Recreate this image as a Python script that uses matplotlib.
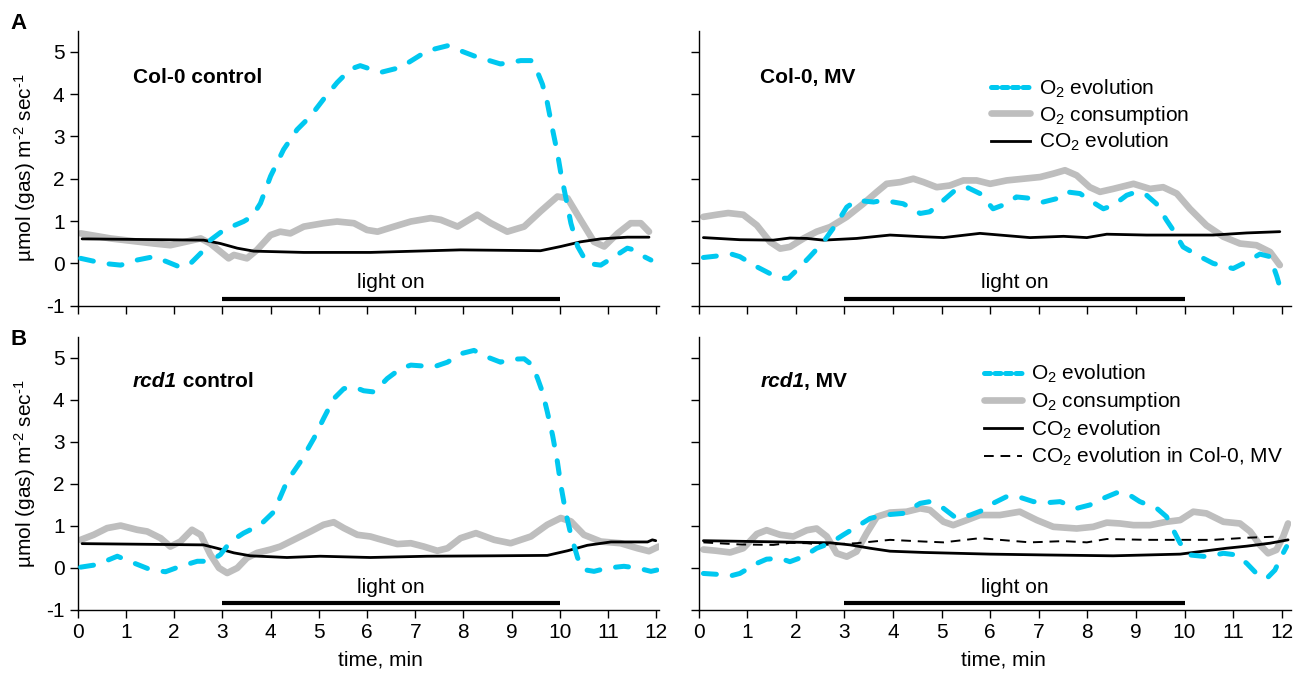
import matplotlib
matplotlib.use('Agg')
import matplotlib.pyplot as plt
from matplotlib.lines import Line2D

plt.rcParams['font.family'] = ['Liberation Sans', 'DejaVu Sans']
plt.rcParams['mathtext.fontset'] = 'custom'
plt.rcParams['mathtext.rm'] = 'Liberation Sans'
plt.rcParams['mathtext.it'] = 'Liberation Sans:italic'
plt.rcParams['mathtext.bf'] = 'Liberation Sans:bold'
plt.rcParams['mathtext.default'] = 'regular'
plt.rcParams['axes.unicode_minus'] = False

# ---- data ----
light_on = (3, 10)

# A, Col-0 control
a_o2_t = [0.06, 0.54, 0.89, 1.23, 1.58, 1.85, 2.13, 2.34, 2.55, 2.75, 3.03, 3.44, 3.62, 3.79, 4.0, 4.27,
          4.55, 4.83, 5.1, 5.38, 5.66, 5.86, 6.07, 6.28, 6.7, 7.25, 7.67, 8.22, 8.77, 9.19, 9.4, 9.54,
          9.64, 9.74, 9.85, 9.95, 10.02, 10.12, 10.23, 10.37, 10.57, 10.85, 11.13, 11.4, 11.54, 11.75, 11.89]
a_o2 = [0.12, 0.0, -0.04, 0.08, 0.16, 0.04, -0.09, 0.0, 0.24, 0.55, 0.79, 0.99, 1.11, 1.42, 2.06, 2.69,
        3.16, 3.48, 3.88, 4.27, 4.59, 4.67, 4.59, 4.51, 4.63, 5.02, 5.14, 4.9, 4.71, 4.79, 4.79, 4.51,
        4.23, 3.8, 3.16, 2.61, 2.14, 1.58, 0.95, 0.4, 0.0, -0.04, 0.16, 0.36, 0.32, 0.16, 0.08]
a_cons_t = [0.06, 0.68, 1.58, 1.92, 2.55, 2.75, 3.0, 3.13, 3.24, 3.51, 3.72, 4.0, 4.2, 4.41, 4.69, 5.1,
            5.38, 5.73, 6.0, 6.22, 6.56, 6.91, 7.32, 7.53, 7.88, 8.29, 8.57, 8.91, 9.26, 9.6, 9.95,
            10.16, 10.43, 10.71, 10.92, 11.2, 11.47, 11.68, 11.85]
a_cons = [0.71, 0.59, 0.47, 0.43, 0.59, 0.47, 0.24, 0.12, 0.2, 0.12, 0.32, 0.67, 0.75, 0.71, 0.87, 0.95,
          0.99, 0.95, 0.79, 0.75, 0.87, 0.99, 1.07, 1.03, 0.87, 1.15, 0.95, 0.75, 0.87, 1.23, 1.58,
          1.54, 1.03, 0.51, 0.4, 0.71, 0.95, 0.95, 0.75]
a_co2_t = [0.09, 2.61, 2.96, 3.31, 3.65, 4.69, 6.07, 7.94, 9.6, 10.02, 10.43, 10.85, 11.4, 11.85]
a_co2 = [0.58, 0.55, 0.47, 0.36, 0.29, 0.26, 0.26, 0.32, 0.3, 0.4, 0.51, 0.58, 0.62, 0.62]

# A, Col-0 MV
amv_o2_t = [0.1, 0.34, 0.68, 0.85, 1.2, 1.47, 1.68, 1.85, 2.09, 2.29, 2.57, 2.84, 3.05, 3.25, 3.6, 3.8,
            4.21, 4.56, 4.76, 5.04, 5.31, 5.52, 5.79, 6.06, 6.34, 6.54, 6.89, 7.09, 7.37, 7.57, 7.85,
            8.05, 8.33, 8.53, 8.81, 9.01, 9.22, 9.42, 9.63, 9.77, 9.97, 10.32, 10.59, 11.0, 11.28,
            11.55, 11.76, 11.83, 11.9, 11.96]
amv_o2 = [0.14, 0.17, 0.22, 0.16, -0.08, -0.24, -0.35, -0.35, -0.08, 0.16, 0.51, 0.94, 1.33, 1.49, 1.45,
          1.49, 1.41, 1.18, 1.22, 1.49, 1.76, 1.8, 1.65, 1.29, 1.41, 1.57, 1.53, 1.45, 1.53, 1.69, 1.65,
          1.49, 1.29, 1.37, 1.61, 1.69, 1.61, 1.41, 1.02, 0.78, 0.39, 0.16, 0.0, -0.12, 0.04,
          0.22, 0.16, -0.08, -0.31, -0.55]
amv_cons_t = [0.1, 0.37, 0.61, 0.92, 1.2, 1.47, 1.68, 1.88, 2.16, 2.43, 2.71, 3.05, 3.39, 3.67, 3.87, 4.15,
              4.42, 4.63, 4.9, 5.17, 5.45, 5.72, 6.0, 6.34, 7.03, 7.3, 7.54, 7.78, 8.05, 8.26, 8.53,
              8.95, 9.29, 9.56, 9.84, 10.11, 10.45, 10.8, 11.14, 11.48, 11.76, 11.96]
amv_cons = [1.1, 1.15, 1.19, 1.15, 0.9, 0.51, 0.35, 0.39, 0.59, 0.75, 0.86, 1.1, 1.41, 1.69, 1.88, 1.92,
            2.0, 1.92, 1.8, 1.84, 1.96, 1.96, 1.88, 1.96, 2.04, 2.12, 2.2, 2.08, 1.8, 1.69, 1.76,
            1.88, 1.76, 1.8, 1.65, 1.29, 0.9, 0.63, 0.47, 0.43, 0.27, -0.04]
amv_co2_t = [0.1, 0.85, 1.54, 1.88, 2.23, 2.57, 3.25, 3.94, 4.63, 5.04, 5.79, 6.2, 6.82, 7.51, 7.99, 8.4,
             9.22, 9.91, 10.59, 11.28, 11.96]
amv_co2 = [0.61, 0.56, 0.55, 0.6, 0.59, 0.55, 0.59, 0.67, 0.63, 0.61, 0.71, 0.67, 0.61, 0.64, 0.61, 0.69,
           0.67, 0.67, 0.67, 0.72, 0.75]

# B, rcd1 control
b_o2_t = [0.06, 0.4, 0.82, 1.16, 1.51, 1.82, 2.13, 2.48, 2.75, 2.96, 3.17, 3.44, 3.79, 4.07, 4.34, 4.62,
          4.9, 5.1, 5.31, 5.52, 5.73, 5.93, 6.15, 6.42, 6.7, 6.91, 7.39, 7.67, 7.94, 8.22, 8.5, 8.77,
          8.98, 9.26, 9.43, 9.54, 9.64, 9.74, 9.85, 9.95, 10.02, 10.12, 10.23, 10.37, 10.5, 10.71,
          10.99, 11.33, 11.61, 11.89, 12.05]
b_o2 = [0.02, 0.08, 0.28, 0.12, -0.04, -0.09, 0.04, 0.16, 0.16, 0.32, 0.63, 0.83, 1.03, 1.34, 2.06, 2.53,
        3.09, 3.56, 4.03, 4.27, 4.31, 4.22, 4.19, 4.51, 4.75, 4.83, 4.79, 4.9, 5.1, 5.18, 5.02, 4.9,
        4.97, 4.98, 4.83, 4.51, 4.19, 3.72, 3.16, 2.53, 1.98, 1.34, 0.79, 0.24, -0.04, -0.08,
        0.0, 0.04, 0.0, -0.08, -0.04]
b_cons_t = [0.06, 0.33, 0.61, 0.89, 1.23, 1.44, 1.72, 1.92, 2.13, 2.37, 2.55, 2.75, 2.93, 3.1, 3.31, 3.51,
            3.72, 4.0, 4.2, 4.48, 4.83, 5.1, 5.31, 5.52, 5.8, 6.07, 6.22, 6.63, 6.91, 7.18, 7.46, 7.67,
            7.94, 8.26, 8.64, 8.98, 9.4, 9.74, 10.02, 10.23, 10.5, 10.85, 11.26, 11.61, 11.85, 12.05]
b_cons = [0.67, 0.79, 0.95, 1.01, 0.91, 0.87, 0.71, 0.51, 0.63, 0.91, 0.79, 0.32, 0.0, -0.12, 0.0, 0.24,
          0.36, 0.44, 0.51, 0.67, 0.87, 1.03, 1.09, 0.95, 0.79, 0.75, 0.7, 0.57, 0.59, 0.51, 0.41, 0.47,
          0.71, 0.83, 0.67, 0.59, 0.75, 1.03, 1.19, 1.11, 0.79, 0.63, 0.59, 0.47, 0.4, 0.51]
b_co2_t = [0.09, 2.61, 2.89, 3.24, 3.58, 4.34, 5.03, 6.07, 7.25, 8.64, 9.74, 10.16, 10.57, 11.06, 11.82,
           11.92, 11.99]
b_co2 = [0.58, 0.55, 0.47, 0.36, 0.29, 0.25, 0.28, 0.25, 0.28, 0.29, 0.3, 0.41, 0.54, 0.62, 0.62, 0.67, 0.65]

# B, rcd1 MV
bmv_o2_t = [0.1, 0.37, 0.65, 0.85, 1.2, 1.4, 1.68, 1.88, 2.16, 2.43, 2.71, 2.98, 3.25, 3.53, 3.8, 4.21,
            4.56, 4.76, 5.04, 5.31, 5.59, 5.86, 6.06, 6.34, 6.54, 6.89, 7.23, 7.44, 7.78, 8.05, 8.33,
            8.6, 8.81, 9.08, 9.43, 9.63, 9.77, 9.91, 10.11, 10.45, 10.8, 11.07, 11.28, 11.48, 11.69,
            11.86, 11.99, 12.1]
bmv_o2 = [-0.13, -0.15, -0.19, -0.13, 0.11, 0.21, 0.23, 0.15, 0.27, 0.47, 0.59, 0.79, 0.98, 1.18, 1.26, 1.3,
          1.54, 1.58, 1.42, 1.18, 1.26, 1.38, 1.54, 1.7, 1.71, 1.58, 1.56, 1.58, 1.42, 1.5, 1.66,
          1.79, 1.78, 1.58, 1.42, 1.22, 0.9, 0.59, 0.31, 0.27, 0.35, 0.31, 0.11, -0.13, -0.25,
          -0.05, 0.27, 0.51]
bmv_cons_t = [0.1, 0.37, 0.65, 0.92, 1.2, 1.4, 1.68, 1.95, 2.23, 2.43, 2.64, 2.84, 3.05, 3.25, 3.46, 3.67,
              3.94, 4.28, 4.56, 4.76, 5.04, 5.24, 5.52, 5.79, 6.2, 6.61, 6.96, 7.3, 7.78, 8.12, 8.4,
              8.67, 8.95, 9.29, 9.63, 9.91, 10.18, 10.45, 10.8, 11.14, 11.35, 11.55, 11.72, 11.89, 12.03,
              12.13]
bmv_cons = [0.44, 0.41, 0.37, 0.47, 0.81, 0.9, 0.79, 0.75, 0.9, 0.94, 0.75, 0.35, 0.27, 0.39, 0.83, 1.22,
            1.32, 1.34, 1.42, 1.38, 1.1, 1.02, 1.14, 1.26, 1.26, 1.34, 1.14, 0.98, 0.94, 0.98, 1.08,
            1.06, 1.02, 1.02, 1.1, 1.14, 1.34, 1.3, 1.1, 1.06, 0.87, 0.55, 0.35, 0.43, 0.75, 1.06]
bmv_co2_t = [0.1, 2.71, 3.12, 3.53, 3.94, 4.63, 6.0, 7.16, 8.53, 9.91, 10.45, 10.86, 11.28, 11.76, 12.13]
bmv_co2 = [0.65, 0.6, 0.55, 0.47, 0.4, 0.37, 0.33, 0.31, 0.29, 0.33, 0.41, 0.47, 0.52, 0.59, 0.67]

CYAN = '#00C8F0'
GRAY = '#BEBEBE'
FS = 15

fig = plt.figure(figsize=(12.96, 6.78), dpi=100)
ax_a = fig.add_axes([0.0600, 0.549, 0.4482, 0.406])
ax_amv = fig.add_axes([0.5390, 0.549, 0.4575, 0.406])
ax_b = fig.add_axes([0.0600, 0.1003, 0.4482, 0.4027])
ax_bmv = fig.add_axes([0.5390, 0.1003, 0.4575, 0.4027])


def draw(ax, o2_t, o2, cons_t, cons, co2_t, co2):
    ax.plot(cons_t, cons, color=GRAY, lw=4.8, solid_capstyle='round', solid_joinstyle='round', zorder=2)
    ax.plot(co2_t, co2, color='black', lw=2.0, solid_capstyle='round', solid_joinstyle='round', zorder=3)
    ax.plot(o2_t, o2, color=CYAN, lw=3.6, dashes=(2.6, 3.2), dash_capstyle='round',
            dash_joinstyle='round', zorder=4)
    ax.plot(light_on, [-0.84, -0.84], color='black', lw=3, solid_capstyle='butt')
    ax.text(sum(light_on) / 2, -0.46, 'light on', ha='center', va='center', fontsize=FS)


def style(ax, xmax, left_labels, bottom_labels):
    for s in ['top', 'right']:
        ax.spines[s].set_visible(False)
    for s in ['left', 'bottom']:
        ax.spines[s].set_linewidth(1.0)
    ax.set_xlim(0, xmax)
    ax.set_ylim(-1, 5.5)
    ax.set_xticks(range(13))
    ax.set_yticks(range(-1, 6))
    ax.tick_params(direction='out', length=5.5, width=1, labelsize=FS, pad=4,
                   labelleft=left_labels, labelbottom=bottom_labels)
    if left_labels:
        ax.set_ylabel('µmol (gas) m$^{\u20102}$ sec$^{\u20101}$', fontsize=FS)
        ax.yaxis.set_label_coords(-0.068, 0.5)
    if bottom_labels:
        ax.set_xlabel('time, min', fontsize=FS)
        ax.xaxis.set_label_coords(6.27 / xmax, -0.15)


draw(ax_a, a_o2_t, a_o2, a_cons_t, a_cons, a_co2_t, a_co2)
draw(ax_amv, amv_o2_t, amv_o2, amv_cons_t, amv_cons, amv_co2_t, amv_co2)
draw(ax_b, b_o2_t, b_o2, b_cons_t, b_cons, b_co2_t, b_co2)
draw(ax_bmv, bmv_o2_t, bmv_o2, bmv_cons_t, bmv_cons, bmv_co2_t, bmv_co2)
# Col-0 MV CO2 trace repeated for comparison
ax_bmv.plot(amv_co2_t, amv_co2, color='black', lw=1.4, dashes=(5, 3.5), zorder=3)

style(ax_a, 12.05, True, False)
style(ax_amv, 12.2, False, False)
style(ax_b, 12.05, True, True)
style(ax_bmv, 12.2, False, True)

# panel titles
ax_a.text(1.14, 4.38, 'Col-0 control', fontsize=FS, fontweight='bold', va='center')
ax_amv.text(1.27, 4.38, 'Col-0, MV', fontsize=FS, fontweight='bold', va='center')
t = ax_b.text(1.14, 4.43, 'rcd1', fontsize=FS, fontweight='bold', style='italic', va='center')
ax_b.annotate(' control', xy=(1, 0), xycoords=t, va='bottom', fontsize=FS, fontweight='bold')
t = ax_bmv.text(1.27, 4.43, 'rcd1', fontsize=FS, fontweight='bold', style='italic', va='center')
ax_bmv.annotate(', MV', xy=(1, 0), xycoords=t, va='bottom', fontsize=FS, fontweight='bold')

# legends
h_o2 = Line2D([], [], color=CYAN, lw=3.6, dashes=(1.2, 0.9), dash_capstyle='round')
h_cons = Line2D([], [], color=GRAY, lw=4.8, solid_capstyle='round')
h_co2 = Line2D([], [], color='black', lw=2.0)
h_co2_col = Line2D([], [], color='black', lw=1.4, dashes=(5, 3.5))
leg_kw = dict(loc='upper left', frameon=False, fontsize=FS, handlelength=1.83, handletextpad=0.43,
              borderpad=0, borderaxespad=0)
ax_amv.legend([h_o2, h_cons, h_co2], ['O$_2$ evolution', 'O$_2$ consumption', 'CO$_2$ evolution'],
              bbox_to_anchor=(0.494, 0.83), labelspacing=0.2, **leg_kw)
ax_bmv.legend([h_o2, h_cons, h_co2, h_co2_col],
              ['O$_2$ evolution', 'O$_2$ consumption', 'CO$_2$ evolution', 'CO$_2$ evolution in Col-0, MV'],
              bbox_to_anchor=(0.481, 0.905), labelspacing=0.25, **leg_kw)

fig.text(10 / 1296, 1 - 13 / 678, 'A', fontsize=16, fontweight='bold', va='top')
fig.text(10 / 1296, 1 - 329 / 678, 'B', fontsize=16, fontweight='bold', va='top')

fig.savefig('out.png', dpi=100)
